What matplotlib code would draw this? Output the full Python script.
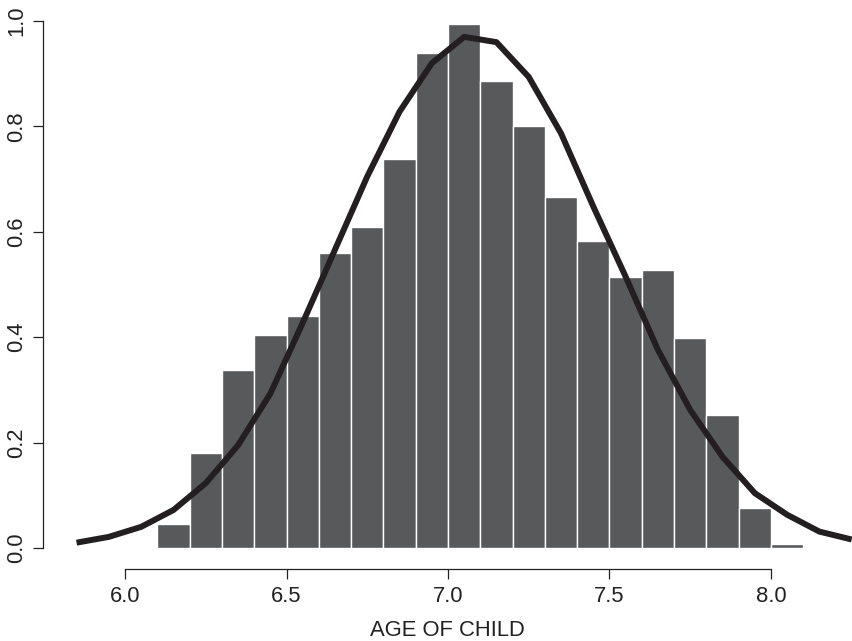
import numpy as np
import matplotlib.pyplot as plt

plt.rcParams["font.family"] = ["Liberation Sans", "DejaVu Sans"]

# histogram bins (left edges) and densities
bin_left = [6.1, 6.2, 6.3, 6.4, 6.5, 6.6, 6.7, 6.8, 6.9, 7.0,
            7.1, 7.2, 7.3, 7.4, 7.5, 7.6, 7.7, 7.8, 7.9, 8.0]
density = [0.046, 0.180, 0.338, 0.405, 0.440, 0.560, 0.609, 0.738, 0.940, 0.994,
           0.886, 0.800, 0.667, 0.583, 0.515, 0.527, 0.398, 0.252, 0.076, 0.007]
bin_width = 0.1

# fitted curve vertices
curve_x = [5.85, 5.95, 6.05, 6.15, 6.25, 6.35, 6.45, 6.55, 6.65, 6.75, 6.85, 6.95, 7.05,
           7.15, 7.25, 7.35, 7.45, 7.55, 7.65, 7.75, 7.85, 7.95, 8.05, 8.15, 8.25]
curve_y = [0.010, 0.021, 0.040, 0.072, 0.123, 0.195, 0.293, 0.427, 0.566, 0.705, 0.828, 0.920, 0.970,
           0.960, 0.894, 0.787, 0.648, 0.515, 0.376, 0.262, 0.173, 0.104, 0.063, 0.031, 0.016]

xticks = [6.0, 6.5, 7.0, 7.5, 8.0]
yticks = [0.0, 0.2, 0.4, 0.6, 0.8, 1.0]

fig = plt.figure(figsize=(8.52, 6.41), dpi=100)
ax = fig.add_axes([43 / 852, (641 - 569) / 641, 1 - 43 / 852, 569 / 641])

ax.bar(bin_left, density, width=bin_width, align="edge",
       color="#58595b", edgecolor="white", linewidth=1.0)
ax.plot(curve_x, curve_y, color="#231f20", lw=4.3, solid_capstyle="butt")

ax.set_xlim(5.746, 8.251)
ax.set_ylim(-0.04, 1.04)

for s in ["top", "right"]:
    ax.spines[s].set_visible(False)
ax.spines["left"].set_bounds(0, 1)
ax.spines["bottom"].set_bounds(6, 8)
for s in ["left", "bottom"]:
    ax.spines[s].set_color("#222222")
    ax.spines[s].set_linewidth(0.9)

ax.set_xticks(xticks)
ax.set_xticklabels([f"{t:.1f}" for t in xticks])
ax.set_yticks(yticks)
ax.set_yticklabels([f"{t:.1f}" for t in yticks], rotation=90, va="center")
ax.tick_params(length=7.5, width=0.9, color="#222222", labelsize=15.8,
               labelcolor="#222222")
ax.tick_params(axis="x", pad=5)
ax.tick_params(axis="y", pad=4)

ax.set_xlabel("AGE OF CHILD", fontsize=15.8, color="#222222", labelpad=9)

fig.savefig("out.png", dpi=100)
